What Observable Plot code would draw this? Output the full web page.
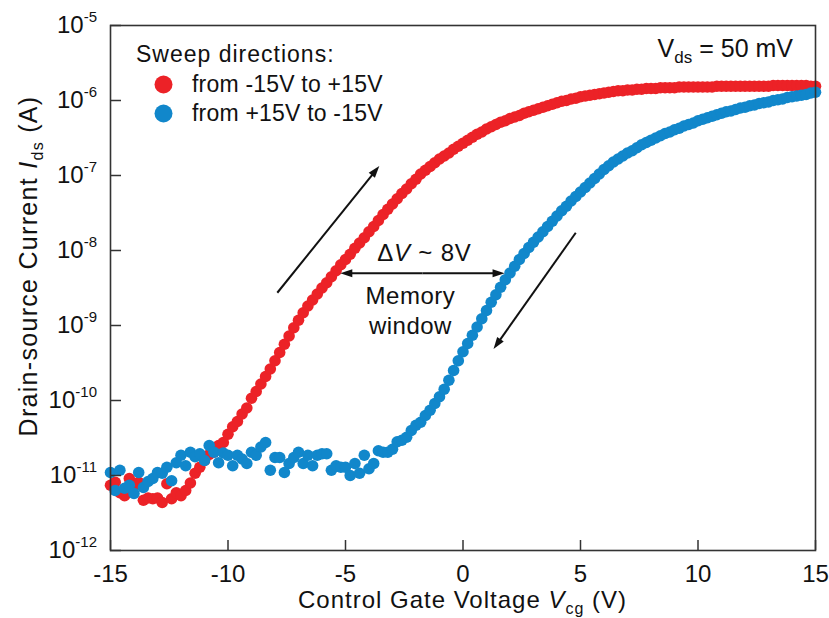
<!DOCTYPE html>
<html><head><meta charset="utf-8">
<script src="https://cdn.jsdelivr.net/npm/d3@7"></script>
<script src="https://cdn.jsdelivr.net/npm/@observablehq/plot@0.6"></script>
<style>body{margin:0;background:#fff;} #chart{width:829px;height:618px;}</style>
</head><body><div id="chart"></div>
<script>
const FONT = "'Liberation Sans', Arial, Helvetica, sans-serif";
const TEXT = "#111";

// gate voltage sampling grid (V), -15 .. 15 in 0.2 V steps
const gateVoltage = d3.range(151).map(i => Math.round((-15 + 0.2 * i) * 10) / 10);

// log10(Ids / A), sweep from -15V to +15V (red)
const logIdsForward = [
  -11.13,-11.09,-11.23,-11.27,-11.04,-11.13,-11.09,-11.33,-11.30,-11.31,-11.30,-11.36,-11.11,-11.31,-11.23,-11.27,-11.20,-11.10,-10.97,-10.89,-10.80,-10.72,-10.69,-10.60,-10.56,-10.45,
  -10.35,-10.28,-10.18,-10.10,-9.97,-9.88,-9.78,-9.68,-9.58,-9.47,-9.36,-9.25,-9.14,-9.03,-8.93,-8.83,-8.74,-8.66,-8.58,-8.50,-8.43,-8.35,-8.27,-8.19,-8.12,
  -8.05,-7.97,-7.90,-7.83,-7.75,-7.68,-7.60,-7.52,-7.45,-7.38,-7.31,-7.24,-7.18,-7.11,-7.05,-6.98,-6.93,-6.88,-6.83,-6.78,-6.74,-6.70,-6.65,-6.61,-6.57,
  -6.53,-6.49,-6.45,-6.42,-6.38,-6.35,-6.32,-6.29,-6.27,-6.24,-6.22,-6.20,-6.17,-6.15,-6.13,-6.11,-6.09,-6.07,-6.05,-6.03,-6.01,-6.00,-5.98,-5.97,-5.95,
  -5.94,-5.93,-5.92,-5.91,-5.90,-5.89,-5.88,-5.87,-5.87,-5.86,-5.86,-5.85,-5.85,-5.84,-5.84,-5.84,-5.83,-5.83,-5.83,-5.83,-5.82,-5.82,-5.82,-5.82,-5.82,
  -5.82,-5.82,-5.82,-5.81,-5.81,-5.81,-5.81,-5.81,-5.81,-5.81,-5.81,-5.81,-5.81,-5.81,-5.81,-5.80,-5.80,-5.80,-5.80,-5.80,-5.80,-5.80,-5.80,-5.81,-5.81
];

// log10(Ids / A), sweep from +15V to -15V (blue)
const logIdsReverse = [
  -10.96,-11.20,-10.93,-11.17,-11.13,-11.24,-10.96,-11.16,-11.08,-11.04,-10.96,-10.97,-10.89,-11.07,-10.83,-10.73,-10.87,-10.69,-10.75,-10.71,-10.80,-10.60,-10.69,-10.83,-10.70,-10.73,
  -10.87,-10.73,-10.78,-10.84,-10.69,-10.73,-10.62,-10.56,-10.93,-10.76,-10.76,-10.96,-10.84,-10.76,-10.69,-10.84,-10.73,-10.87,-10.73,-10.71,-10.71,-10.93,-10.87,-10.89,-10.89,
  -11.00,-10.84,-10.97,-10.73,-10.91,-10.84,-10.67,-10.69,-10.69,-10.65,-10.55,-10.53,-10.49,-10.40,-10.33,-10.29,-10.20,-10.13,-10.04,-9.95,-9.85,-9.73,-9.60,-9.47,-9.35,
  -9.24,-9.13,-9.02,-8.91,-8.80,-8.69,-8.59,-8.49,-8.39,-8.30,-8.21,-8.12,-8.04,-7.96,-7.89,-7.82,-7.75,-7.68,-7.61,-7.54,-7.47,-7.41,-7.34,-7.28,-7.22,
  -7.16,-7.10,-7.04,-6.98,-6.92,-6.87,-6.82,-6.78,-6.74,-6.70,-6.67,-6.63,-6.59,-6.56,-6.53,-6.50,-6.47,-6.44,-6.42,-6.39,-6.37,-6.34,-6.32,-6.30,-6.27,
  -6.25,-6.23,-6.21,-6.19,-6.17,-6.15,-6.14,-6.12,-6.10,-6.09,-6.07,-6.06,-6.04,-6.03,-6.02,-6.00,-5.99,-5.98,-5.96,-5.95,-5.94,-5.93,-5.92,-5.90,-5.89
];

const seriesNames = ["from -15V to +15V", "from +15V to -15V"];
const seriesColors = ["#EC2227", "#1187CB"];
const xTicks = [-15, -10, -5, 0, 5, 10, 15];
const yExponents = [-12, -11, -10, -9, -8, -7, -6, -5];

// annotation arrows (V, log10 A)
const sweepArrowX1 = [-7.88, 4.82];
const sweepArrowY1 = [-8.57, -7.77];
const sweepArrowX2 = [-3.54, 1.32];
const sweepArrowY2 = [-6.88, -9.32];
const windowEdges = [-5.2, 1.79];
const windowLevel = -8.31;

const points = [
  ...gateVoltage.map((v, i) => ({v, ids: 10 ** logIdsForward[i], s: 0})),
  ...gateVoltage.map((v, i) => ({v, ids: 10 ** logIdsReverse[i], s: 1}))
];
const mid = (windowEdges[0] + windowEdges[1]) / 2;
const arrowList = [
  ...sweepArrowX1.map((x, i) => ({x1: x, y1: 10 ** sweepArrowY1[i], x2: sweepArrowX2[i], y2: 10 ** sweepArrowY2[i]})),
  ...windowEdges.map(x => ({x1: mid, y1: 10 ** windowLevel, x2: x, y2: 10 ** windowLevel}))
];

// arrows with filled heads, positioned through Plot's scales
const arrows = (index, scales) => {
  const g = d3.create("svg:g").attr("stroke", "#111").attr("fill", "#111");
  const L = 12, W = 4;
  for (const a of arrowList) {
    const x1 = scales.x(a.x1), y1 = scales.y(a.y1), x2 = scales.x(a.x2), y2 = scales.y(a.y2);
    const dx = x2 - x1, dy = y2 - y1, len = Math.hypot(dx, dy);
    const ux = dx / len, uy = dy / len;
    const bx = x2 - ux * L, by = y2 - uy * L;
    g.append("line").attr("x1", x1).attr("y1", y1).attr("x2", bx + ux * 2).attr("y2", by + uy * 2).attr("stroke-width", 2);
    g.append("path").attr("stroke", "none")
      .attr("d", `M${x2},${y2}L${bx - uy * W},${by + ux * W}L${bx + uy * W},${by - ux * W}Z`);
  }
  return g.node();
};

function rich(g, x, y, parts, o = {}) {
  const t = g.append("text")
    .attr("x", x).attr("y", y)
    .attr("text-anchor", o.anchor || "start")
    .attr("font-size", o.size || 24)
    .attr("letter-spacing", o.ls || 0)
    .attr("fill", TEXT);
  if (o.transform) t.attr("transform", o.transform);
  for (const p of parts) {
    const s = t.append("tspan").text(p.t);
    if (p.italic) s.attr("font-style", "italic");
    if (p.size) s.attr("font-size", p.size);
    if (p.dy) s.attr("dy", p.dy);
  }
  return t;
}

const texts = (index, scales, values, dims) => {
  const g = d3.create("svg:g").attr("font-family", FONT);
  const left = dims.marginLeft, right = dims.width - dims.marginRight;
  // y tick labels 10^n
  for (const e of yExponents) {
    const y = scales.y(10 ** e);
    rich(g, left - 13, y + 8, [{t: "10"}, {t: String(e), size: 15, dy: -11}], {anchor: "end", size: 24});
  }
  // x axis title
  rich(g, (left + right) / 2, 608, [
    {t: "Control Gate Voltage "}, {t: "V", italic: true}, {t: "cg", size: 16, dy: 6}, {t: " (V)", dy: -6}
  ], {anchor: "middle", size: 24, ls: 1});
  // y axis title
  rich(g, 0, 0, [
    {t: "Drain-source Current "}, {t: "I", italic: true}, {t: "ds", size: 16, dy: 6}, {t: " (A)", dy: -6}
  ], {anchor: "middle", size: 25, ls: 1.3, transform: "translate(37,266) rotate(-90)"});
  // legend
  rich(g, 136, 62, [{t: "Sweep directions:"}], {size: 23, ls: 1});
  rich(g, 192, 92, [{t: seriesNames[0]}], {size: 23, ls: 0.2});
  rich(g, 192, 121, [{t: seriesNames[1]}], {size: 23, ls: 0.2});
  // Vds label
  rich(g, right - 22, 57, [{t: "V"}, {t: "ds", size: 17, dy: 6}, {t: " = 50 mV", dy: -6}], {anchor: "end", size: 25});
  // memory window annotation
  const cx = scales.x(mid);
  const cy = scales.y(10 ** windowLevel);
  rich(g, cx + 2, cy - 12, [{t: "\u0394"}, {t: "V", italic: true}, {t: " ~ 8V"}], {anchor: "middle", size: 24, ls: 0.8});
  rich(g, cx - 12, cy + 31, [{t: "Memory"}], {anchor: "middle", size: 24, ls: 0.5});
  rich(g, cx - 12, cy + 61, [{t: "window"}], {anchor: "middle", size: 24, ls: 0.5});
  return g.node();
};

const chart = Plot.plot({
  width: 829,
  height: 618,
  marginLeft: 110,
  marginRight: 14,
  marginTop: 25,
  marginBottom: 68,
  style: {fontFamily: FONT, background: "white", color: TEXT},
  x: {domain: [-15, 15], axis: null},
  y: {type: "log", domain: [1e-12, 1e-5], axis: null},
  marks: [
    Plot.dot(points.filter(d => d.s === 0), {x: "v", y: "ids", r: 5.8, fill: seriesColors[0], stroke: "none"}),
    Plot.dot(points.filter(d => d.s === 1), {x: "v", y: "ids", r: 5.8, fill: seriesColors[1], stroke: "none"}),
    Plot.tickX(xTicks, {x: d => d, insetTop: 515, stroke: "#333", strokeWidth: 1.5}),
    Plot.tickY(yExponents.map(e => 10 ** e), {y: d => d, insetRight: 694, stroke: "#333", strokeWidth: 1.5}),
    Plot.frame({stroke: "#333", strokeWidth: 1.6}),
    Plot.text(xTicks, {x: d => d, y: 1e-12, dy: 31, text: d => String(d), lineAnchor: "bottom", fontSize: 24, fill: TEXT}),
    Plot.dot([0], {frameAnchor: "top-left", dx: 53, dy: 59, r: 9, fill: seriesColors[0], stroke: "none"}),
    Plot.dot([0], {frameAnchor: "top-left", dx: 53, dy: 88, r: 9, fill: seriesColors[1], stroke: "none"}),
    arrows,
    texts
  ]
});
document.getElementById("chart").appendChild(chart);
</script>
</body></html>
